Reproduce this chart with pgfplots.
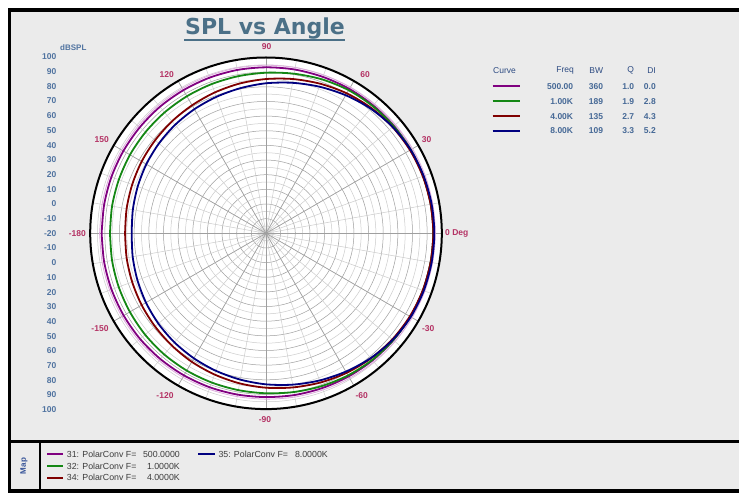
\documentclass[border=0pt]{standalone}
\usepackage{fontspec}
\setmainfont{Liberation Sans}
\newfontfamily\titlefont{DejaVu Sans}
\usepackage{pgfplots}
\usepackage{pgfplotstable}
\pgfplotsset{compat=1.18}
\definecolor{cP}{RGB}{128,0,128}
\definecolor{cPl}{RGB}{222,170,222}
\definecolor{cG}{RGB}{20,135,20}
\definecolor{cR}{RGB}{128,0,0}
\definecolor{cB}{RGB}{0,0,128}
\definecolor{bgc}{RGB}{235,235,235}
\definecolor{titleC}{RGB}{75,112,135}
\definecolor{axlab}{RGB}{80,115,160}
\definecolor{anglab}{RGB}{180,50,100}
\definecolor{tabhead}{RGB}{45,75,130}
\definecolor{tabval}{RGB}{70,105,150}
\definecolor{mapblue}{RGB}{50,80,150}
\definecolor{legtxt}{RGB}{60,60,60}

\pgfplotstableread{
a p g r b
-180 92.2 86.5 76.2 71.7
-170 92.2 86.7 76.6 72.4
-160 92.2 87.0 77.2 73.4
-150 92.2 87.3 78.0 74.6
-140 92.2 87.7 78.9 75.9
-130 92.1 88.0 80.0 77.2
-120 92.0 88.2 81.3 78.5
-110 91.9 88.4 82.6 79.9
-100 91.8 88.7 84.0 81.4
-90 91.8 89.2 85.4 83.1
-80 92.1 90.0 86.8 84.9
-70 92.4 91.0 88.4 86.9
-60 92.8 92.0 90.0 89.0
-50 93.2 92.8 91.4 91.2
-40 93.5 93.4 92.6 93.0
-30 93.8 93.8 93.4 94.1
-20 94.0 94.0 93.9 94.6
-10 94.1 94.1 94.1 94.8
0 94.2 94.2 94.2 94.9
10 94.2 94.2 94.1 94.8
20 94.2 94.1 93.9 94.5
30 94.1 94.0 93.5 94.0
40 94.0 93.7 92.8 92.9
50 93.9 93.3 91.7 91.1
60 93.8 92.8 90.3 88.8
70 93.6 91.8 88.6 86.5
80 93.5 90.6 86.9 84.3
90 93.3 89.6 85.3 82.4
100 93.2 88.9 83.8 80.6
110 93.0 88.4 82.3 79.1
120 92.8 88.0 80.9 77.8
130 92.7 87.7 79.8 76.6
140 92.5 87.4 78.8 75.4
150 92.4 87.2 78.0 74.3
160 92.3 86.9 77.2 73.2
170 92.2 86.7 76.6 72.3
180 92.2 86.5 76.2 71.7
}\spl

\begin{document}
\begin{tikzpicture}[x=1pt,y=1pt]
\useasboundingbox (0,0) rectangle (739,493);
\fill[white] (0,0) rectangle (739,493);
\fill[bgc] (9,2) rectangle (739,483);
% plot disk and grid
\fill[white] (266,259.7) circle[radius=175.8pt];
\foreach \k in {1,3,...,23} \draw[gray!40, line width=0.5pt] (266,259.7) circle[radius=\k*7.325pt];
\foreach \k in {2,4,...,22} \draw[gray!75, line width=0.5pt] (266,259.7) circle[radius=\k*7.325pt];
\foreach \t in {0,10,...,350} \draw[gray!40, line width=0.5pt] (266,259.7) -- ++(\t:175.8pt);
\foreach \t in {0,30,...,330} \draw[gray!75, line width=0.6pt] (266,259.7) -- ++(\t:175.8pt);

\begin{axis}[at={(0,0)}, anchor=south west, x=1.465pt, y=1.465pt,
  xmin=-181.57, xmax=322.87, ymin=-177.27, ymax=159.25,
  enlargelimits=false, hide axis, clip=false]
\addplot[cPl, line width=0.8pt, smooth, data cs=polar] table[x=a, y expr=\thisrow{p}+21.4] {\spl};
\addplot[cP, line width=1.8pt, smooth, data cs=polar] table[x=a, y expr=\thisrow{p}+20] {\spl};
\addplot[cG, line width=1.8pt, smooth, data cs=polar] table[x=a, y expr=\thisrow{g}+20] {\spl};
\addplot[cR, line width=1.8pt, smooth, data cs=polar] table[x=a, y expr=\thisrow{r}+20] {\spl};
\addplot[cB, line width=1.8pt, smooth, data cs=polar] table[x=a, y expr=\thisrow{b}+20] {\spl};
\end{axis}

\draw[black, line width=2pt] (266,259.7) circle[radius=175.8pt];

% title
\node[anchor=base, inner sep=0, text=titleC, font=\titlefont\bfseries\fontsize{22}{24}\selectfont] at (265,458.7) {SPL vs Angle};
\draw[titleC, line width=2pt] (184.3,452.7) -- (345,452.7);

% radial labels
\node[anchor=west, inner sep=0, text=axlab, font=\bfseries\fontsize{8}{9}\selectfont] at (60,445.3) {dBSPL};
\foreach \k in {-12,...,12} {
  \pgfmathtruncatemacro\lab{10*abs(\k)-20}
  \node[anchor=east, inner sep=0, text=axlab, font=\bfseries\fontsize{8.5}{9}\selectfont] at (56.5,259.7-14.7*\k) {\lab};
}

% angle labels
\begin{scope}[every node/.style={inner sep=0, text=anglab, font=\bfseries\fontsize{8.5}{9}\selectfont}]
\node at (266.7,446.3) {90};
\node at (166.7,418) {120};
\node at (365,418) {60};
\node at (101.7,353) {150};
\node at (426.7,353) {30};
\node[anchor=west] at (445,259.7) {0 Deg};
\node[anchor=east] at (86,259.7) {-180};
\node at (428.3,164) {-30};
\node at (100,164) {-150};
\node at (361.7,97.5) {-60};
\node at (165,97.5) {-120};
\node at (265,73.7) {-90};
\end{scope}

% table legend
\begin{scope}[every node/.style={inner sep=0, font=\fontsize{8.5}{9}\selectfont}]
\node[anchor=west, text=tabhead] at (493,422.3) {Curve};
\node[anchor=east, text=tabhead] at (574,422.3) {Freq};
\node[anchor=east, text=tabhead] at (603.3,422.3) {BW};
\node[anchor=east, text=tabhead] at (634.3,422.3) {Q};
\node[anchor=east, text=tabhead] at (656,422.3) {DI};
\foreach \y/\c/\f/\bw/\q/\di in {406.5/cP/500.00/360/1.0/0.0, 391.7/cG/1.00K/189/1.9/2.8, 376.9/cR/4.00K/135/2.7/4.3, 362.1/cB/8.00K/109/3.3/5.2} {
  \draw[\c, line width=2pt] (492.7,\y) -- (520,\y);
  \node[anchor=east, text=tabval, font=\bfseries\fontsize{8.5}{9}\selectfont] at (573.3,\y) {\f};
  \node[anchor=east, text=tabval, font=\bfseries\fontsize{8.5}{9}\selectfont] at (603.3,\y) {\bw};
  \node[anchor=east, text=tabval, font=\bfseries\fontsize{8.5}{9}\selectfont] at (634.3,\y) {\q};
  \node[anchor=east, text=tabval, font=\bfseries\fontsize{8.5}{9}\selectfont] at (656,\y) {\di};
}
\end{scope}

% frame
\draw[black, line width=3.4pt] (740,483) -- (9.2,483) -- (9.2,2) -- (740,2);
\draw[black, line width=3.2pt] (9.2,51.7) -- (740,51.7);
\draw[black, line width=2pt] (39.5,2) -- (39.5,51.7);

% map legend
\node[rotate=90, inner sep=0, text=mapblue, font=\bfseries\fontsize{8}{9}\selectfont] at (24,27) {Map};
\begin{scope}[every node/.style={inner sep=0, text=legtxt, font=\fontsize{8.8}{9}\selectfont}]
\draw[cP, line width=1.6pt] (47,39) -- (63,39);
\node[anchor=west] at (66.7,39) {31: PolarConv F=};
\node[anchor=east] at (180,39) {500.0000};
\draw[cG, line width=1.6pt] (47,27) -- (63,27);
\node[anchor=west] at (66.7,27) {32: PolarConv F=};
\node[anchor=east] at (180,27) {1.0000K};
\draw[cR, line width=1.6pt] (47,15.3) -- (63,15.3);
\node[anchor=west] at (66.7,15.3) {34: PolarConv F=};
\node[anchor=east] at (180,15.3) {4.0000K};
\draw[cB, line width=1.6pt] (198,39) -- (215,39);
\node[anchor=west] at (218.3,39) {35: PolarConv F=};
\node[anchor=east] at (328,39) {8.0000K};
\end{scope}
\end{tikzpicture}
\end{document}
